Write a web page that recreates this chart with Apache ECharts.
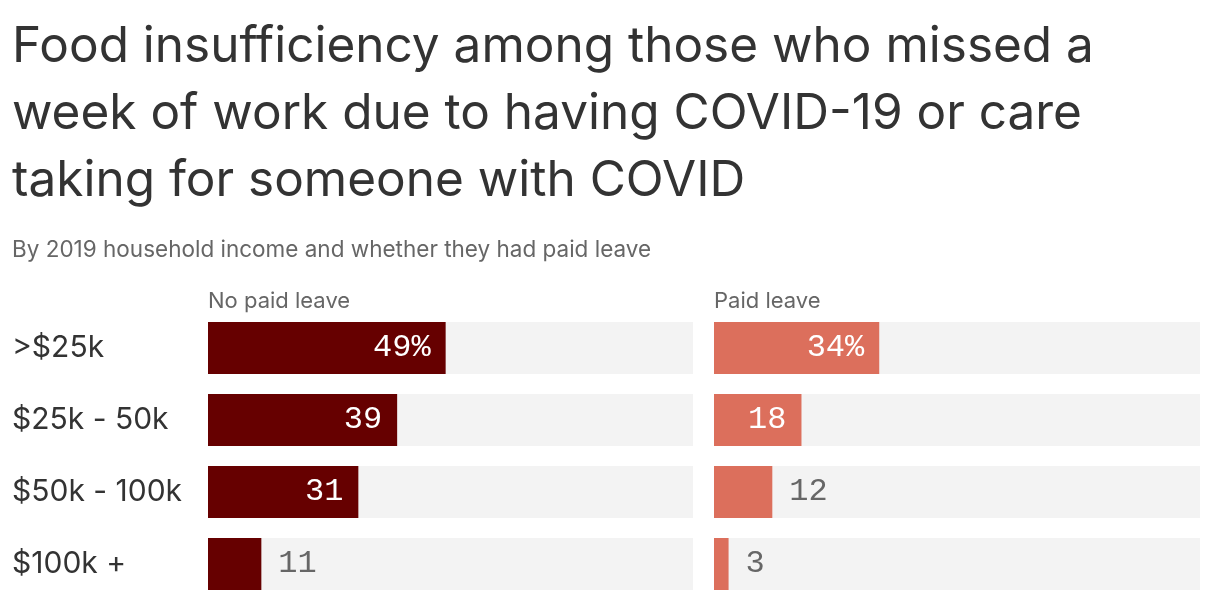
<!DOCTYPE html>
<html><head><meta charset="utf-8">
<script src="https://cdn.jsdelivr.net/npm/echarts@6/dist/echarts.min.js"></script>
<style>html,body{margin:0;padding:0;background:#fff}#c{width:1220px;height:600px}</style>
</head><body><div id="c"></div>
<script>
const categories = ['>$25k', '$25k - 50k', '$50k - 100k', '$100k +'];
const noPaidLeave = [49, 39, 31, 11];
const paidLeave = [34, 18, 12, 3];
const noPaidLabels = ['49%', '39', '31', '11'];
const paidLabels = ['34%', '18', '12', '3'];
const panelTitles = ['No paid leave', 'Paid leave'];
const insideMin = 15;

const chart = echarts.init(document.getElementById('c'));
const mono = 'Liberation Mono';
function mkData(vals, labels) {
  return vals.map((v, i) => {
    const inside = v >= insideMin;
    return {
      value: v,
      label: {
        show: true,
        formatter: labels[i],
        position: inside ? 'insideRight' : 'right',
        distance: inside ? 15 : 17,
        color: inside ? '#ffffff' : '#666666',
        fontFamily: mono,
        fontSize: 32
      }
    };
  });
}
chart.setOption({
  animation: false,
  title: [
    { text: 'Food insufficiency among those who missed a\nweek of work due to having COVID-19 or care\ntaking for someone with COVID',
      left: 7, top: 9,
      textStyle: { fontFamily: 'Inter', fontSize: 49.5, fontWeight: 400, color: '#333333', lineHeight: 67 } },
    { text: 'By 2019 household income and whether they had paid leave',
      left: 7, top: 234,
      textStyle: { fontFamily: 'Inter', fontSize: 22.5, fontWeight: 400, color: '#666666' } },
    { text: panelTitles[0], left: 203, top: 285,
      textStyle: { fontFamily: 'Inter', fontSize: 22, fontWeight: 400, color: '#666666' } },
    { text: panelTitles[1], left: 709, top: 285,
      textStyle: { fontFamily: 'Inter', fontSize: 22, fontWeight: 400, color: '#666666' } }
  ],
  grid: [
    { left: 208, width: 485, top: 312, height: 288 },
    { left: 714, width: 486, top: 312, height: 288 }
  ],
  xAxis: [
    { gridIndex: 0, type: 'value', min: 0, max: 100, show: false },
    { gridIndex: 1, type: 'value', min: 0, max: 100, show: false }
  ],
  yAxis: [
    { gridIndex: 0, type: 'category', data: categories, inverse: true,
      axisLine: { show: false }, axisTick: { show: false },
      axisLabel: { align: 'left', margin: 196, fontFamily: 'Inter', fontSize: 30, color: '#333333' } },
    { gridIndex: 1, type: 'category', data: categories, inverse: true, show: false }
  ],
  series: [
    { type: 'bar', xAxisIndex: 0, yAxisIndex: 0, barWidth: 52, data: mkData(noPaidLeave, noPaidLabels),
      itemStyle: { color: '#660000' }, showBackground: true, backgroundStyle: { color: '#f3f3f3' } },
    { type: 'bar', xAxisIndex: 1, yAxisIndex: 1, barWidth: 52, data: mkData(paidLeave, paidLabels),
      itemStyle: { color: '#dc6f5c' }, showBackground: true, backgroundStyle: { color: '#f3f3f3' } }
  ]
});
</script></body></html>
